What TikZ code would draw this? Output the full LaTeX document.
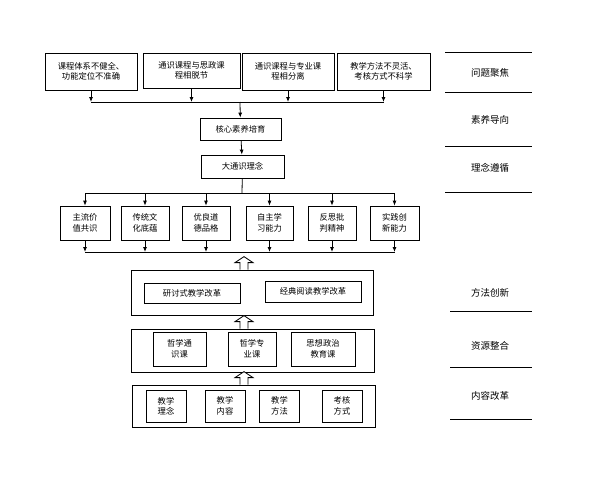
\documentclass[tikz,border=0pt]{standalone}
\usepackage{fontspec}
\setmainfont{Noto Sans CJK SC}
\usetikzlibrary{positioning,arrows.meta}
\tikzset{
  box/.style={draw,thick,align=center,inner sep=1pt,font=\fontsize{8.3}{10.5}\selectfont},
  frame/.style={draw,thick},
  lab/.style={font=\fontsize{9.5}{11}\selectfont},
  arr/.style={-{Latex[length=5pt,width=4pt]},thick},
  sep/.style={thick},
  hollow/.pic={\draw[thick,fill=white] (-4,0)--(-4,-7)--(-9,-7)--(0,-13)--(9,-7)--(4,-7)--(4,0);}
}
\begin{document}
\begin{tikzpicture}[x=1pt,y=-1pt]
    \useasboundingbox (0,0) rectangle (600,480);

    % problems
    \node[box,minimum width=92,minimum height=37] (p1) at (91,71.5) {课程体系不健全、\\功能定位不准确};
    \node[box,minimum width=97,minimum height=35] (p2) at (191.5,70.5) {通识课程与思政课\\程相脱节};
    \node[box,minimum width=92,minimum height=37] (p3) at (288,71.5) {通识课程与专业课\\程相分离};
    \node[box,minimum width=93,minimum height=37] (p4) at (383.5,71.5) {教学方法不灵活、\\考核方式不科学};

    \node[box,minimum width=81,minimum height=22] (core) at (240.5,129) {核心素养培育};
    \node[box,minimum width=83,minimum height=23] (idea) at (242.5,166.5) {大通识理念};

    \coordinate (j1) at (240,102);
    \coordinate (j2) at (242,193);
    \coordinate (j3) at (242,252);

    \draw[thick] (p1.south |- j1) -- (p4.south |- j1);
    \foreach \p in {p1,p2,p3,p4}
        \draw[arr] (\p.south) -- (\p.south |- j1);
    \draw[arr] (j1) -- (core);
    \draw[arr] (core) -- (idea);
    \draw[thick] (idea) -- (j2);

    % goals
    \foreach \n/\x/\w/\t in {g1/85/50/主流价\\值共识, g2/145/48/传统文\\化底蕴, g3/206/48/优良道\\德品格,
                             g4/269.5/47/自主学\\习能力, g5/332/48/反思批\\判精神, g6/394.5/49/实践创\\新能力}
        \node[box,minimum width=\w,minimum height=34] (\n) at (\x,223) {\t};
    \draw[thick] (g1.north |- j2) -- (g6.north |- j2);
    \draw[thick] (g1.south |- j3) -- (g6.south |- j3);
    \foreach \g in {g1,g2,g3,g4,g5,g6} {
        \draw[arr] (\g.north |- j2) -- (\g.north);
        \draw[arr] (\g.south) -- (\g.south |- j3);
    }

    % method
    \node[frame,minimum width=242,minimum height=45] (m) at (252,292.5) {};
    \node[box,minimum width=96,minimum height=20] (m1) at (192,293) {研讨式教学改革};
    \node[box,minimum width=96,minimum height=21] (m2) at (313,291.5) {经典阅读教学改革};

    % resource
    \node[frame,minimum width=243,minimum height=43] (r) at (252.5,350.5) {};
    \node[box,minimum width=53,minimum height=34] (r1) at (179.5,349) {哲学通\\识课};
    \node[box,minimum width=48,minimum height=34] (r2) at (252,349) {哲学专\\业课};
    \node[box,minimum width=64,minimum height=34] (r3) at (323,349) {思想政治\\教育课};

    % content
    \node[frame,minimum width=243,minimum height=42] (c) at (253.5,406) {};
    \foreach \n/\x/\t in {c1/166/教学\\理念, c2/225/教学\\内容, c3/279.5/教学\\方法, c4/342/考核\\方式}
        \node[box,minimum width=40,minimum height=32] (\n) at (\x,406) {\t};

    % hollow arrows
    \pic at (c.north -| 244,0) {hollow};
    \pic at (r.north -| 244,0) {hollow};
    \pic at (m.north -| 244,0) {hollow};

    % right column
    \foreach \y in {52,92,146,192}
        \draw[sep] (445,\y) -- (532,\y);
    \foreach \y in {311,367,419}
        \draw[sep] (450,\y) -- (532,\y);
    \node[lab] at (490,73) {问题聚焦};
    \node[lab] at (490,120) {素养导向};
    \node[lab] at (490,168) {理念遵循};
    \node[lab] at (490,293) {方法创新};
    \node[lab] at (490,346) {资源整合};
    \node[lab] at (490,396) {内容改革};
\end{tikzpicture}
\end{document}
